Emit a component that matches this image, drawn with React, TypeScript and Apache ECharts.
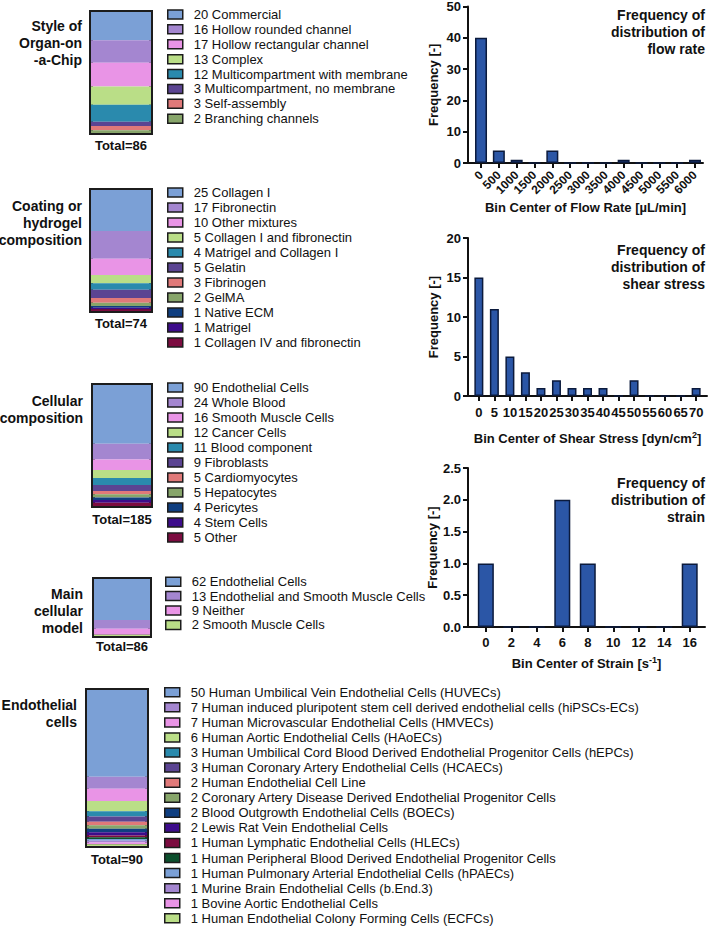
import React, { useEffect, useRef } from 'react';
import * as echarts from 'echarts';

// ---------- Data ----------
const styleLabels = ['Commercial', 'Hollow rounded channel', 'Hollow rectangular channel', 'Complex', 'Multicompartment with membrane', 'Multicompartment, no membrane', 'Self-assembly', 'Branching channels'];
const styleValues = [20, 16, 17, 13, 12, 3, 3, 2];

const coatingLabels = ['Collagen I', 'Fibronectin', 'Other mixtures', 'Collagen I and fibronectin', 'Matrigel and Collagen I', 'Gelatin', 'Fibrinogen', 'GelMA', 'Native ECM', 'Matrigel', 'Collagen IV and fibronectin'];
const coatingValues = [25, 17, 10, 5, 4, 5, 3, 2, 1, 1, 1];

const cellularLabels = ['Endothelial Cells', 'Whole Blood', 'Smooth Muscle Cells', 'Cancer Cells', 'Blood component', 'Fibroblasts', 'Cardiomyocytes', 'Hepatocytes', 'Pericytes', 'Stem Cells', 'Other'];
const cellularValues = [90, 24, 16, 12, 11, 9, 5, 5, 4, 4, 5];

const modelLabels = ['Endothelial Cells', 'Endothelial and Smooth Muscle Cells', 'Neither', 'Smooth Muscle Cells'];
const modelValues = [62, 13, 9, 2];

const endoLabels = [
  'Human Umbilical Vein Endothelial Cells (HUVECs)',
  'Human induced pluripotent stem cell derived endothelial cells (hiPSCs-ECs)',
  'Human Microvascular Endothelial Cells (HMVECs)',
  'Human Aortic Endothelial Cells (HAoECs)',
  'Human Umbilical Cord Blood Derived Endothelial Progenitor Cells (hEPCs)',
  'Human Coronary Artery Endothelial Cells (HCAECs)',
  'Human Endothelial Cell Line',
  'Coronary Artery Disease Derived Endothelial Progenitor Cells',
  'Blood Outgrowth Endothelial Cells (BOECs)',
  'Lewis Rat Vein Endothelial Cells',
  'Human Lymphatic Endothelial Cells (HLECs)',
  'Human Peripheral Blood Derived Endothelial Progenitor Cells',
  'Human Pulmonary Arterial Endothelial Cells (hPAECs)',
  'Murine Brain Endothelial Cells (b.End.3)',
  'Bovine Aortic Endothelial Cells',
  'Human Endothelial Colony Forming Cells (ECFCs)',
];
const endoValues = [50, 7, 7, 6, 3, 3, 2, 2, 2, 2, 1, 1, 1, 1, 1, 1];

const groupTitles = ['Style of\nOrgan-on\n-a-Chip', 'Coating or\nhydrogel\ncomposition', 'Cellular\ncomposition', 'Main\ncellular\nmodel', 'Endothelial\ncells'];

const flowBins = [0, 500, 1000, 1500, 2000, 2500, 3000, 3500, 4000, 4500, 5000, 5500, 6000];
const flowFreq = [40, 4, 1, 0, 4, 0, 0, 0, 1, 0, 0, 0, 1];

const shearBins = [0, 5, 10, 15, 20, 25, 30, 35, 40, 45, 50, 55, 60, 65, 70];
const shearFreq = [15, 11, 5, 3, 1, 2, 1, 1, 1, 0, 2, 0, 0, 0, 1];

const strainBins = [0, 2, 4, 6, 8, 10, 12, 14, 16];
const strainFreq = [1, 0, 0, 2, 1, 0, 0, 0, 1];

const histTitles = ['Frequency of\ndistribution of\nflow rate', 'Frequency of\ndistribution of\nshear stress', 'Frequency of\ndistribution of\nstrain'];

// ---------- Styling / layout ----------
const FONT = '"Liberation Sans", Arial, Helvetica, sans-serif';
const INK = '#111111';
const PALETTE = ['#7ba0d6', '#a486d0', '#e994e6', '#bade87', '#2a8aad', '#5b4492', '#e07979', '#87a56a', '#0f3e80', '#3d0c8b', '#7c0c40', '#0c4f2d'];

const stackLayout = [
  { grid: { left: 91, top: 12, width: 60, height: 121 }, labelMargin: 6, legend: { left: 167, top: 7, lh: 14.9 }, title: { x: 82, y: 17.5 } },
  { grid: { left: 91, top: 190, width: 60, height: 121 }, labelMargin: 6, legend: { left: 167, top: 185, lh: 15 }, title: { x: 82, y: 197.5 } },
  { grid: { left: 93, top: 385, width: 58, height: 121 }, labelMargin: 7, legend: { left: 167, top: 380, lh: 15 }, title: { x: 83, y: 392.5 } },
  { grid: { left: 94, top: 579, width: 56, height: 57 }, labelMargin: 4, legend: { left: 165, top: 574.5, lh: 14.4 }, title: { x: 83, y: 585.5 } },
  { grid: { left: 87, top: 690, width: 60, height: 156 }, labelMargin: 7, legend: { left: 164, top: 684.7, lh: 15.07 }, title: { x: 77, y: 696.5 } },
];

const histLayout = [
  { grid: { left: 468, top: 5, width: 235, height: 158 }, xMin: -365, xMax: 6225, yMax: 50, yInt: 10, barWidth: 12, nameGap: 34, rotate: 45, labelMargin: 10, title: { x: 705, y: 6.5 } },
  { grid: { left: 468, top: 238, width: 239, height: 158 }, xMin: -3.5, xMax: 73.5, yMax: 20, yInt: 5, barWidth: 9, nameGap: 34, rotate: 0, labelMargin: 10, title: { x: 705, y: 241.5 } },
  { grid: { left: 468, top: 468, width: 237, height: 159 }, xMin: -1.4, xMax: 17.2, yMax: 2.5, yInt: 0.5, barWidth: 16, nameGap: 28, rotate: 0, labelMargin: 9, title: { x: 705, y: 474.5 } },
];

function buildOption() {
  const groups = [
    { labels: styleLabels, values: styleValues },
    { labels: coatingLabels, values: coatingValues },
    { labels: cellularLabels, values: cellularValues },
    { labels: modelLabels, values: modelValues },
    { labels: endoLabels, values: endoValues },
  ];
  const grid: any[] = [];
  const xAxis: any[] = [];
  const yAxis: any[] = [];
  const series: any[] = [];
  const legend: any[] = [];
  const graphic: any[] = [];

  groups.forEach((g, i) => {
    const L = stackLayout[i];
    const total = g.values.reduce((a, b) => a + b, 0);
    grid.push({ ...L.grid, show: true, borderColor: '#1c1c1c', borderWidth: 4, backgroundColor: 'transparent' });
    xAxis.push({
      type: 'category', gridIndex: i, data: [`Total=${total}`],
      axisLine: { show: false }, axisTick: { show: false },
      axisLabel: { fontFamily: FONT, fontWeight: 'bold', fontSize: 13, color: INK, margin: L.labelMargin },
    });
    yAxis.push({ type: 'value', gridIndex: i, inverse: true, min: 0, max: total, show: false, splitLine: { show: false } });
    const names: string[] = [];
    g.values.forEach((v, j) => {
      const name = `${v} ${g.labels[j]}`;
      names.push(name);
      series.push({
        type: 'bar', name, xAxisIndex: i, yAxisIndex: i, stack: 'stack' + i,
        barWidth: '100%', data: [v], silent: true,
        itemStyle: { color: PALETTE[j % PALETTE.length] },
      });
    });
    legend.push({
      data: names, orient: 'vertical', left: L.legend.left, top: L.legend.top,
      padding: 0, itemGap: 0, itemWidth: 15, itemHeight: 9, icon: 'rect', selectedMode: false,
      itemStyle: { borderColor: '#1c1c1c', borderWidth: 1.5 },
      formatter: (name: string) => `{g|}${name}`,
      textStyle: {
        fontFamily: FONT, fontSize: 13, color: INK, lineHeight: L.legend.lh,
        rich: { g: { width: 6, height: 1 } },
      },
    });
    graphic.push({
      type: 'text', x: L.title.x, y: L.title.y, silent: true,
      style: { text: groupTitles[i], font: `bold 14px ${FONT}`, fill: INK, align: 'right', textAlign: 'right', verticalAlign: 'top', textVerticalAlign: 'top', lineHeight: 17 },
    });
  });

  const hists = [
    { bins: flowBins, freq: flowFreq, name: 'Bin Center of Flow Rate [µL/min]' },
    { bins: shearBins, freq: shearFreq, name: 'Bin Center of Shear Stress [dyn/cm{sup|2}]' },
    { bins: strainBins, freq: strainFreq, name: 'Bin Center of Strain [s{sup|-1}]' },
  ];
  const axisLineStyle = { color: INK, width: 2 };
  hists.forEach((h, k) => {
    const H = histLayout[k];
    const idx = groups.length + k;
    grid.push({ ...H.grid });
    xAxis.push({
      type: 'value', gridIndex: idx, min: H.xMin, max: H.xMax,
      axisLine: { show: true, onZero: false, lineStyle: axisLineStyle },
      axisTick: { show: true, customValues: h.bins, length: 5, lineStyle: axisLineStyle },
      axisLabel: {
        customValues: h.bins, rotate: H.rotate, fontFamily: FONT, fontWeight: 'bold',
        fontSize: H.rotate ? 12 : 13, color: INK, margin: H.labelMargin,
        formatter: (v: number) => String(v),
      },
      splitLine: { show: false },
      name: h.name, nameLocation: 'middle', nameGap: H.nameGap,
      nameTextStyle: {
        fontFamily: FONT, fontWeight: 'bold', fontSize: 13, color: INK, lineHeight: 16,
        rich: { sup: { fontFamily: FONT, fontWeight: 'bold', fontSize: 9, color: INK, verticalAlign: 'top', lineHeight: 9 } },
      },
    });
    yAxis.push({
      type: 'value', gridIndex: idx, min: 0, max: H.yMax, interval: H.yInt,
      axisLine: { show: true, onZero: false, lineStyle: axisLineStyle },
      axisTick: { show: true, length: 5, lineStyle: axisLineStyle },
      axisLabel: {
        fontFamily: FONT, fontWeight: 'bold', fontSize: 13, color: INK, margin: 7,
        formatter: (v: number) => (H.yInt < 1 ? v.toFixed(1) : String(v)),
      },
      splitLine: { show: false },
      name: 'Frequency [-]', nameLocation: 'middle', nameGap: 28,
      nameTextStyle: { fontFamily: FONT, fontWeight: 'bold', fontSize: 13, color: INK },
    });
    series.push({
      type: 'bar', xAxisIndex: idx, yAxisIndex: idx, barWidth: H.barWidth, silent: true,
      data: h.bins.map((b, i) => [b, h.freq[i]]),
      itemStyle: { color: '#2b56a6', borderColor: '#0b1a3c', borderWidth: 1.5 },
    });
    graphic.push({
      type: 'text', x: H.title.x, y: H.title.y, silent: true,
      style: { text: histTitles[k], font: `bold 14px ${FONT}`, fill: INK, align: 'right', textAlign: 'right', verticalAlign: 'top', textVerticalAlign: 'top', lineHeight: 17 },
    });
  });

  return {
    animation: false,
    backgroundColor: '#ffffff',
    textStyle: { fontFamily: FONT },
    grid, xAxis, yAxis, series, legend, graphic,
  };
}

export default function App() {
  const ref = useRef<HTMLDivElement>(null);
  useEffect(() => {
    document.body.style.margin = '0';
    const chart = echarts.init(ref.current!, null, { renderer: 'svg', width: 709, height: 927 });
    chart.setOption(buildOption() as any);
    return () => chart.dispose();
  }, []);
  return <div ref={ref} style={{ width: 709, height: 927 }} />;
}
